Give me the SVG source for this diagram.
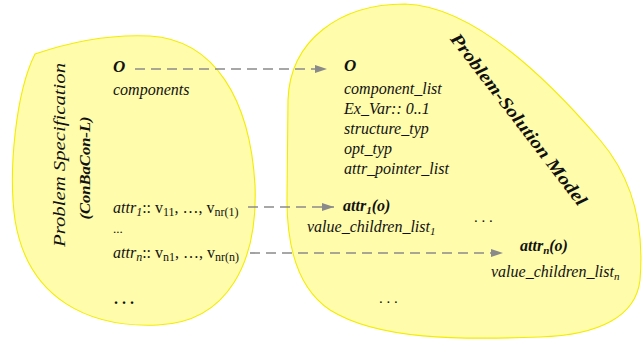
<svg xmlns="http://www.w3.org/2000/svg" width="642" height="346" viewBox="0 0 642 346" font-family="'Liberation Serif', 'DejaVu Serif', serif">
  <style>
    text { font-family: "Liberation Serif", "DejaVu Serif", serif; fill: #111; }
    .it { font-style: italic; font-size: 16px; }
    .bi { font-style: italic; font-weight: bold; }
    .up { font-style: normal; }
    .blob { fill: #fffcac; stroke: #f4ec00; stroke-width: 1.1; }
    .dash { fill: none; stroke: #8a8a8a; stroke-width: 1.6; stroke-dasharray: 10 6; }
  </style>
  <defs>
    <marker id="tri" viewBox="0 0 12 8" refX="12" refY="4" markerWidth="12" markerHeight="8" markerUnits="userSpaceOnUse" orient="auto">
      <path d="M0,0 L12,4 L0,8 Z" fill="#8a8a8a"/>
    </marker>
  </defs>

  <!-- problem specification region -->
  <g id="problem-specification">
    <path class="blob" d="M35,54 C70,42 110,34 150,36 C215,40 250,100 255,185 C258,262 228,322 158,325 C90,328 28,300 15,220 C8,170 16,92 35,54 Z"/>
    <text class="it" transform="translate(65,155) rotate(-90)" text-anchor="middle" font-size="21" textLength="184" lengthAdjust="spacingAndGlyphs">Problem Specification</text>
    <text class="bi" transform="translate(90,168) rotate(-90)" text-anchor="middle" font-size="14" textLength="103" lengthAdjust="spacingAndGlyphs">(ConBaCon-L)</text>
    <text class="bi" x="113" y="72" font-size="17">O</text>
    <text class="it" x="113" y="95">components</text>
    <text class="it" x="113" y="213" font-size="17">attr<tspan font-size="12" dy="3">1</tspan><tspan class="up" dy="-3">:: v</tspan><tspan class="up" font-size="12" dy="3">11</tspan><tspan class="up" dy="-3">, …, v</tspan><tspan class="up" font-size="12" dy="3">nr(1)</tspan></text>
    <text class="up" x="113" y="233" font-size="13">...</text>
    <text class="it" x="113" y="258" font-size="17">attr<tspan font-size="12" dy="3">n</tspan><tspan class="up" dy="-3">:: v</tspan><tspan class="up" font-size="12" dy="3">n1</tspan><tspan class="up" dy="-3">, …, v</tspan><tspan class="up" font-size="12" dy="3">nr(n)</tspan></text>
    <text x="114" y="304" font-size="16" font-weight="bold">. . .</text>
  </g>

  <!-- problem-solution model region -->
  <g id="problem-solution-model">
    <path class="blob" d="M405,4 C470,6 540,70 600,140 C630,175 645,220 640,280 C636,316 600,335 540,337 C460,340 378,340 330,310 C300,290 287,250 287,200 L288,100 C290,40 340,4 405,4 Z"/>
    <text class="bi" transform="translate(518,120) rotate(52.5)" text-anchor="middle" y="5" font-size="18" textLength="212" lengthAdjust="spacingAndGlyphs">Problem-Solution Model</text>
    <text class="bi" x="344" y="71" font-size="17">O</text>
    <text class="it" x="344" y="94">component_list</text>
    <text class="it" x="344" y="114">Ex_Var:: 0..1</text>
    <text class="it" x="344" y="134">structure_typ</text>
    <text class="it" x="344" y="154">opt_typ</text>
    <text class="it" x="344" y="174">attr_pointer_list</text>
    <text class="bi" x="343" y="211" font-size="16">attr<tspan font-size="11" dy="3">1</tspan><tspan dy="-3">(o)</tspan></text>
    <text class="it" x="307" y="232">value_children_list<tspan font-size="11" dy="3">1</tspan></text>
    <text x="474" y="222" font-size="15">. . .</text>
    <text class="bi" x="520" y="251" font-size="16">attr<tspan font-size="11" dy="3">n</tspan><tspan dy="-3">(o)</tspan></text>
    <text class="it" x="491" y="277">value_children_list<tspan font-size="11" dy="3">n</tspan></text>
    <text x="379" y="303" font-size="15">. . .</text>
  </g>

  <!-- mapping connectors -->
  <g id="connectors">
    <line class="dash" x1="135" y1="69" x2="327" y2="69" marker-end="url(#tri)"/>
    <line class="dash" x1="248" y1="207" x2="334" y2="207" marker-end="url(#tri)"/>
    <line class="dash" x1="250" y1="253" x2="503" y2="253" marker-end="url(#tri)"/>
  </g>
</svg>
